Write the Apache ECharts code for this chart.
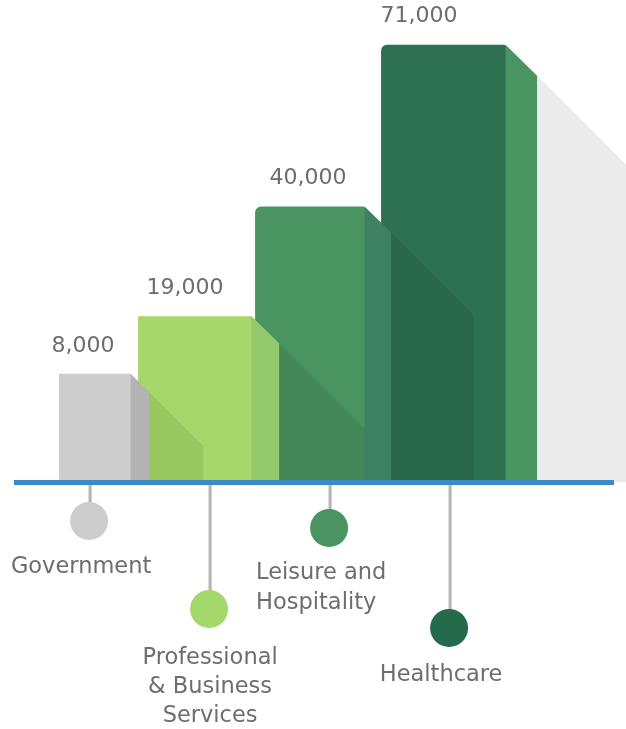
<!DOCTYPE html>
<html>
<head>
<meta charset="utf-8">
<script src="https://cdn.jsdelivr.net/npm/echarts@6/dist/echarts.min.js"></script>
<style>
  html, body { margin: 0; padding: 0; background: #ffffff; }
  #chart { width: 626px; height: 729px; }
</style>
</head>
<body>
<div id="chart"></div>
<script>
// ---- data ----
const categories = ['Government', 'Professional\n& Business\nServices', 'Leisure and\nHospitality', 'Healthcare'];
const values = [8000, 19000, 40000, 71000];
const valueLabels = ['8,000', '19,000', '40,000', '71,000'];

// ---- styles (pixel offsets relative to each category position) ----
const frontColors = ['#cdcdcd', '#a5d76a', '#4a9462', '#2d7152'];
const sideColors = ['#b3b3b3', '#91c96b', '#3e8062', '#4a9462'];
const dotColors = ['#cdcdcd', '#a5d86a', '#4a9462', '#236b4b'];
const cornerR = [0, 0, 6, 6];
const frontLeft = [-31, -72, -75, -69];
const frontRight = [41, 42, 35, 56];
const sideWidth = [18, 27, 26, 31];
const shadowWidth = [54, 86, 83, 160];
const labelDx = [-7, -25, -22, -31];
const dotDy = [41, 129, 48, 148];
const catAlign = ['center', 'center', 'left', 'center'];
const catDx = [-9, 0, -74, -9];
const catDy = [87, 178, 93, 195];
const catLineH = [30, 29, 30, 30];

const Y_MIN = -12800, Y_MAX = 73800;
const TEXT = '#6d6d6d';
const FONT = 'DejaVu Sans';

const chart = echarts.init(document.getElementById('chart'), null, { renderer: 'canvas' });

function renderItem(params, api) {
  const i = params.dataIndex;
  const v = api.value(1);
  const p = api.coord([api.value(0), v]);
  const b = api.coord([api.value(0), Y_MIN]);
  const cx = p[0], top = p[1], base = b[1] - 2.5;
  const n = values.length;
  const zb = (n - i) * 10;
  const xl = cx + frontLeft[i], xr = cx + frontRight[i], sw = sideWidth[i];
  const children = [];
  // shadow cast on the next bar / background
  const W = shadowWidth[i];
  children.push({
    type: 'polygon', z2: zb + 1,
    shape: { points: [[xr + sw, top + sw], [xr + sw + W, top + sw + W], [xr + sw + W, base + 2.5], [xr + sw, base + 2.5]] },
    style: { fill: 'rgba(0,0,0,0.078)' }
  });
  // front face
  children.push({
    type: 'rect', z2: zb + 2,
    shape: { x: xl, y: top, width: xr - xl, height: base - top + 2.5, r: [cornerR[i], cornerR[i] / 3, 0, 0] },
    style: { fill: frontColors[i] }
  });
  // side face
  children.push({
    type: 'polygon', z2: zb + 3,
    shape: { points: [[xr - 0.5, top], [xr + sw, top + sw], [xr + sw, base + 2.5], [xr - 0.5, base + 2.5]] },
    style: { fill: sideColors[i] }
  });
  // value label
  children.push({
    type: 'text', z2: 100,
    style: {
      text: valueLabels[i], x: cx + labelDx[i], y: top - 28,
      align: 'center', verticalAlign: 'middle',
      font: '22px "' + FONT + '"', fill: TEXT
    }
  });
  // marker line + dot
  const dotY = base + dotDy[i];
  children.push({
    type: 'line', z2: 1,
    shape: { x1: cx, y1: base + 4, x2: cx, y2: dotY },
    style: { stroke: '#b3b3b3', lineWidth: 3 }
  });
  children.push({
    type: 'circle', z2: 2,
    shape: { cx: cx - 1, cy: dotY, r: 19 },
    style: { fill: dotColors[i] }
  });
  // category label
  const lh = catLineH[i];
  children.push({
    type: 'text', z2: 100,
    style: {
      text: categories[i], x: cx + catDx[i], y: base + catDy[i] - lh / 2,
      align: catAlign[i], verticalAlign: 'top', lineHeight: lh,
      font: '22.5px "' + FONT + '"', fill: TEXT
    }
  });
  return { type: 'group', children: children };
}

chart.setOption({
  backgroundColor: '#ffffff',
  animation: false,
  grid: { left: 14, right: 12, top: 30, bottom: 246.5 },
  xAxis: {
    type: 'value', min: -0.634, max: 4.366, z: 10,
    axisLine: { show: true, onZero: false, lineStyle: { color: '#3d8bc6', width: 5, cap: 'butt' } },
    axisTick: { show: false }, axisLabel: { show: false }, splitLine: { show: false }
  },
  yAxis: {
    type: 'value', min: Y_MIN, max: Y_MAX, show: false,
    splitLine: { show: false }
  },
  series: [{
    type: 'custom',
    clip: false,
    renderItem: renderItem,
    encode: { x: 0, y: 1 },
    data: values.map((v, i) => [i, v])
  }]
});
</script>
</body>
</html>
